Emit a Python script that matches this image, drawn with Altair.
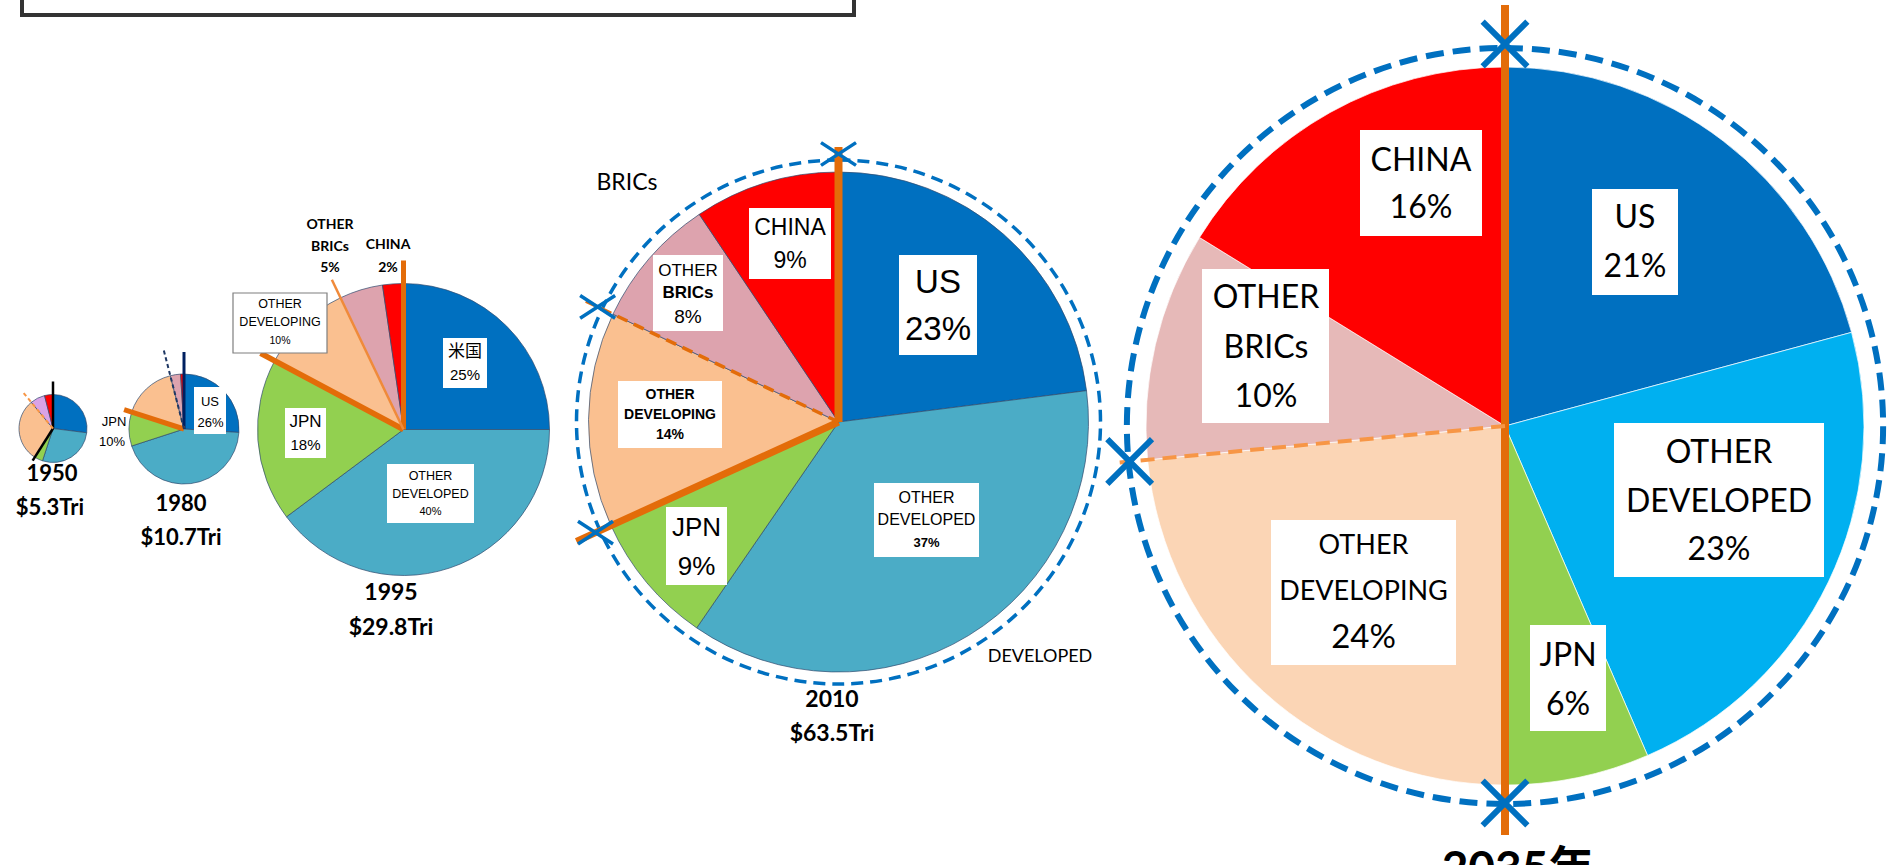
import math
import altair as alt
import pandas as pd

W, H = 1892, 865

# ---------------- data ----------------
years = ["1950", "1980", "1995", "2010", "2035"]
year_titles = ["1950", "1980", "1995", "2010", "2035年"]
world_gdp = ["$5.3Tri", "$10.7Tri", "$29.8Tri", "$63.5Tri", ""]
regions = ["US", "OTHER DEVELOPED", "JPN", "OTHER DEVELOPING", "OTHER BRICs", "CHINA"]

# shares of world GDP (%)
share_1950 = [27, 28, 4, 30, 7, 4]
share_1980 = [26, 44, 10, 16, 3, 1]
share_1995 = [25, 39.8, 18, 10.1, 4.8, 2.3]
share_2010 = [23, 36.6, 8.6, 13.9, 8.5, 9.4]
share_2035 = [20.8, 22.7, 6.5, 23.5, 10.3, 16.2]

# percentages printed on the chart
label_1980 = [26, 0, 10, 0, 0, 0]
label_1995 = [25, 40, 18, 10, 5, 2]
label_2010 = [23, 37, 9, 14, 8, 9]
label_2035 = [21, 23, 6, 24, 10, 16]

SHARES = dict(zip(years, [share_1950, share_1980, share_1995, share_2010, share_2035]))

# ---------------- layout / style ----------------
PIES = {
    "1950": dict(cx=53, cy=428.5, r=34),
    "1980": dict(cx=184, cy=429, r=55),
    "1995": dict(cx=403.5, cy=429.5, r=146),
    "2010": dict(cx=838.5, cy=422, r=250),
    "2035": dict(cx=1505, cy=426, r=359),
}
COL_OLD = ["#0070C0", "#4BACC6", "#92D050", "#FAC090", "#DDA3AE", "#FF0000"]
COL_1950 = ["#0070C0", "#4BACC6", "#92D050", "#FAC090", "#D9A3E6", "#FF0000"]
COL_2035 = ["#0070C0", "#00B0F0", "#92D050", "#FBD5B5", "#E6B9B8", "#FF0000"]
PALETTE = {"1950": COL_1950, "1980": COL_OLD, "1995": COL_OLD, "2010": COL_OLD, "2035": COL_2035}
EDGE = {"1950": "#2F4B6E", "1980": "#2F4B6E", "1995": "#2F4B6E", "2010": "#2F4B6E", "2035": "#FFFFFF"}

AR = "'Liberation Sans', Arial, 'Noto Sans CJK JP', sans-serif"
CB = "Lato, 'Noto Sans CJK JP', sans-serif"

xs = alt.Scale(domain=[0, W], nice=False, zero=False)
ys = alt.Scale(domain=[H, 0], nice=False, zero=False)


def ang(year, k):
    return sum(SHARES[year][:k]) * 3.6


def polar(year, deg, dist):
    p = PIES[year]
    a = math.radians(deg)
    return p["cx"] + dist * math.sin(a), p["cy"] - dist * math.cos(a)


def XY():
    return dict(x=alt.X("x:Q", scale=xs, axis=None), y=alt.Y("y:Q", scale=ys, axis=None))


# ---------------- slices ----------------
rows = []
for yr in years:
    p = PIES[yr]
    cum = 0.0
    for reg, s, c in zip(regions, SHARES[yr], PALETTE[yr]):
        rows.append(dict(year=yr, region=reg, t0=cum, t1=cum + s, x=p["cx"], y=p["cy"],
                         r=p["r"], color=c, edge=EDGE[yr]))
        cum += s
slices = pd.DataFrame(rows)

pie_layer = alt.Chart(slices).mark_arc(strokeWidth=0.7).encode(
    **XY(),
    theta=alt.Theta("t0:Q", scale=alt.Scale(domain=[0, 100], range=[0, 2 * math.pi]), stack=False),
    theta2=alt.Theta2("t1:Q"),
    radius=alt.Radius("r:Q", scale=None),
    color=alt.Color("color:N", scale=None),
    stroke=alt.Stroke("edge:N", scale=None),
)

# ---------------- dashed circles ----------------
def dashed_circle(year, r, width, dash):
    p = PIES[year]
    df = pd.DataFrame([dict(x=p["cx"], y=p["cy"], r=r)])
    return alt.Chart(df).mark_arc(filled=False, stroke="#0070C0", strokeWidth=width,
                                  strokeDash=dash).encode(
        **XY(), theta=alt.value(0), theta2=alt.value(2 * math.pi),
        radius=alt.Radius("r:Q", scale=None))


circ_2010 = dashed_circle("2010", 262, 3.5, [12, 7])
circ_2035 = dashed_circle("2035", 378, 6, [18, 9])

# ---------------- boundary lines ----------------
# (year, boundary index, length, colour, width, style)
LINES = [
    ("1950", 0, 47, "#000000", 2.5, "solid"),
    ("1950", 3, 38, "#000000", 2.5, "solid"),
    ("1950", 4, 46, "#F79646", 2, "short"),
    ("1980", 0, 77, "#002060", 3, "solid"),
    ("1980", 3, 63, "#E36C09", 5, "solid"),
    ("1980", 4, 81, "#1F3864", 2, "short"),
    ("1995", 0, 169, "#E36C09", 5, "solid"),
    ("1995", 3, 162, "#E36C09", 5.5, "solid"),
    ("1995", 4, 166, "#F08A3A", 2.5, "solid"),
    ("2010", 0, 275, "#E36C09", 8, "solid"),
    ("2010", 3, 288, "#E36C09", 7, "solid"),
    ("2010", 4, 280, "#E36C09", 3.5, "long"),
    ("2035", 0, 421, "#E36C09", 8, "solid"),
    ("2035", 3, 409, "#E36C09", 8, "solid"),
    ("2035", 4, 387, "#F79646", 4, "long2"),
]
line_rows = []
for yr, k, L, col, w, style in LINES:
    x2, y2 = polar(yr, ang(yr, k), L)
    line_rows.append(dict(x=PIES[yr]["cx"], y=PIES[yr]["cy"], x2=x2, y2=y2, color=col, w=w, style=style))
lines = pd.DataFrame(line_rows)
DASHES = {"solid": None, "short": [4, 3], "long": [11, 7], "long2": [14, 8]}
line_layers = []
for style, dash in DASHES.items():
    sub = lines[lines["style"] == style]
    kw = dict(strokeCap="butt")
    if dash:
        kw["strokeDash"] = dash
    line_layers.append(alt.Chart(sub).mark_rule(**kw).encode(
        **XY(), x2="x2:Q", y2="y2:Q",
        color=alt.Color("color:N", scale=None),
        strokeWidth=alt.StrokeWidth("w:Q", scale=None)))

# ---------------- X markers ----------------
MARKERS = [("2010", 0, 268), ("2010", 3, 267), ("2010", 4, 267),
           ("2035", 0, 382), ("2035", 3, 377), ("2035", 4, 377)]
mk = []
for yr, k, d in MARKERS:
    x, y = polar(yr, ang(yr, k), d)
    mk.append(dict(year=yr, x=x, y=y))
mk = pd.DataFrame(mk)
mark_2010 = alt.Chart(mk[mk.year == "2010"]).mark_point(
    shape="M-1,-0.65L1,0.65M-1,0.65L1,-0.65", filled=False, size=1225,
    stroke="#0070C0", strokeWidth=3.5, opacity=1).encode(**XY())
mark_2035 = alt.Chart(mk[mk.year == "2035"]).mark_point(
    shape="M-1,-1L1,1M-1,1L1,-1", filled=False, size=2000,
    stroke="#0070C0", strokeWidth=6, opacity=1).encode(**XY())

# ---------------- label boxes ----------------
BOXES = [
    (194, 387, 226, 434, "transparent"),
    (443, 338, 487, 388, "transparent"),
    (285, 408, 326, 458, "transparent"),
    (387, 464, 474, 523, "transparent"),
    (233, 293, 327, 353, "#7F7F7F"),
    (899, 255, 977, 355, "transparent"),
    (749, 208, 831, 279, "transparent"),
    (653, 255, 723, 331, "transparent"),
    (618, 381, 722, 448, "transparent"),
    (666, 507, 727, 585, "transparent"),
    (874, 483, 979, 557, "transparent"),
    (1360, 130, 1482, 236, "transparent"),
    (1202, 269, 1329, 423, "transparent"),
    (1592, 189, 1678, 295, "transparent"),
    (1614, 423, 1824, 577, "transparent"),
    (1271, 520, 1456, 665, "transparent"),
    (1530, 625, 1606, 731, "transparent"),
]
boxes = pd.DataFrame(BOXES, columns=["x", "y", "x2", "y2", "border"])
box_layer = alt.Chart(boxes).mark_rect(fill="white", strokeWidth=1.2).encode(
    **XY(), x2="x2:Q", y2="y2:Q", stroke=alt.Stroke("border:N", scale=None))

frame = pd.DataFrame([dict(x=22, y=-10, x2=854, y2=15)])
frame_layer = alt.Chart(frame).mark_rect(fill="white", stroke="#333333", strokeWidth=4).encode(
    **XY(), x2="x2:Q", y2="y2:Q")


# ---------------- texts ----------------
def P(arr, i):
    return f"{arr[i]}%"


TEXTS = [
    # 1980
    ("US", 210, 402, 13, "ar"), (P(label_1980, 0), 210.5, 423, 13, "ar"),
    ("JPN", 114, 422, 13, "ar"), (P(label_1980, 2), 112, 442, 13, "ar"),
    # 1995
    ("米国", 465, 352, 17, "ar"), (P(label_1995, 0), 465, 375, 15, "ar"),
    ("JPN", 305.5, 422, 17, "ar"), (P(label_1995, 2), 305.5, 445, 15, "ar"),
    ("OTHER", 430.5, 476, 12.5, "ar"), ("DEVELOPED", 430.5, 494, 12.5, "ar"),
    (P(label_1995, 1), 430.5, 512, 11, "ar"),
    ("OTHER", 280, 304, 12.5, "ar"), ("DEVELOPING", 280, 322, 12.5, "ar"),
    (P(label_1995, 3), 280, 341, 10.5, "ar"),
    ("OTHER", 330, 225, 14, "cbb"), ("BRICs", 330, 247, 14, "cbb"), (P(label_1995, 4), 330, 268, 14, "cbb"),
    ("CHINA", 388, 245, 14, "cbb"), (P(label_1995, 5), 388, 268, 14, "cbb"),
    # 2010
    ("US", 938, 283, 33, "ar"), (P(label_2010, 0), 938, 330, 33, "ar"),
    ("CHINA", 790, 228, 23, "ar"), (P(label_2010, 5), 790, 261, 23, "ar"),
    ("OTHER", 688, 271, 17, "ar"), ("BRICs", 688, 293, 17, "arb"), (P(label_2010, 4), 688, 317, 19, "ar"),
    ("OTHER", 670, 395, 14, "arb"), ("DEVELOPING", 670, 415, 14, "arb"), (P(label_2010, 3), 670, 435, 14, "arb"),
    ("JPN", 696.5, 528, 26, "ar"), (P(label_2010, 2), 696.5, 567, 26, "ar"),
    ("OTHER", 926.5, 498, 16, "ar"), ("DEVELOPED", 926.5, 520, 16, "ar"), (P(label_2010, 1), 926.5, 543, 13, "arb"),
    ("BRICs", 627, 183, 23, "cb"), ("DEVELOPED", 1040, 657, 18, "cb"),
    # 2035
    ("CHINA", 1421, 161, 32, "cb"), (P(label_2035, 5), 1421, 208, 32, "cb"),
    ("OTHER", 1266, 298, 32, "cb"), ("BRICs", 1266, 348, 32, "cb"), (P(label_2035, 4), 1266, 397, 32, "cb"),
    ("US", 1635, 218, 32, "cb"), (P(label_2035, 0), 1635, 267, 32, "cb"),
    ("OTHER", 1719, 453, 32, "cb"), ("DEVELOPED", 1719, 502, 32, "cb"), (P(label_2035, 1), 1719, 550, 32, "cb"),
    ("OTHER", 1363.5, 546, 27, "cb"), ("DEVELOPING", 1363.5, 592, 27, "cb"), (P(label_2035, 3), 1363.5, 638, 33, "cb"),
    ("JPN", 1568, 656, 32, "cb"), (P(label_2035, 2), 1568, 705, 32, "cb"),
]

# year / total labels
YEAR_POS = {"1950": (52, 474, 50, 508, 22), "1980": (181, 503.5, 181, 537.5, 22),
            "1995": (391, 593, 391, 628, 23), "2010": (832, 700, 832, 734, 23),
            "2035": (1518, 870, 1518, 900, 46)}
for yr, title, tot in zip(years, year_titles, world_gdp):
    x1, y1, x2, y2, fs = YEAR_POS[yr]
    TEXTS.append((title, x1, y1, fs, "cbb"))
    if tot:
        TEXTS.append((tot, x2, y2, fs, "cbb"))

texts = pd.DataFrame(TEXTS, columns=["text", "x", "y", "size", "style"])
STYLES = {"ar": (AR, "normal"), "arb": (AR, "bold"), "cb": (CB, "normal"), "cbb": (CB, "bold")}
text_layers = []
for st, (font, weight) in STYLES.items():
    sub = texts[texts["style"] == st]
    text_layers.append(alt.Chart(sub).mark_text(
        font=font, fontWeight=weight, align="center", baseline="middle", color="#000000").encode(
        **XY(), text="text:N", size=alt.Size("size:Q", scale=None)))

chart = alt.layer(
    pie_layer, circ_2010, circ_2035, *line_layers, mark_2010, mark_2035,
    box_layer, frame_layer, *text_layers,
).properties(
    width=W, height=H, autosize=alt.AutoSizeParams(type="none"), padding=0, background="white",
).configure_view(strokeWidth=0)

chart.save("out.html", embed_options={"renderer": "svg", "actions": False})
